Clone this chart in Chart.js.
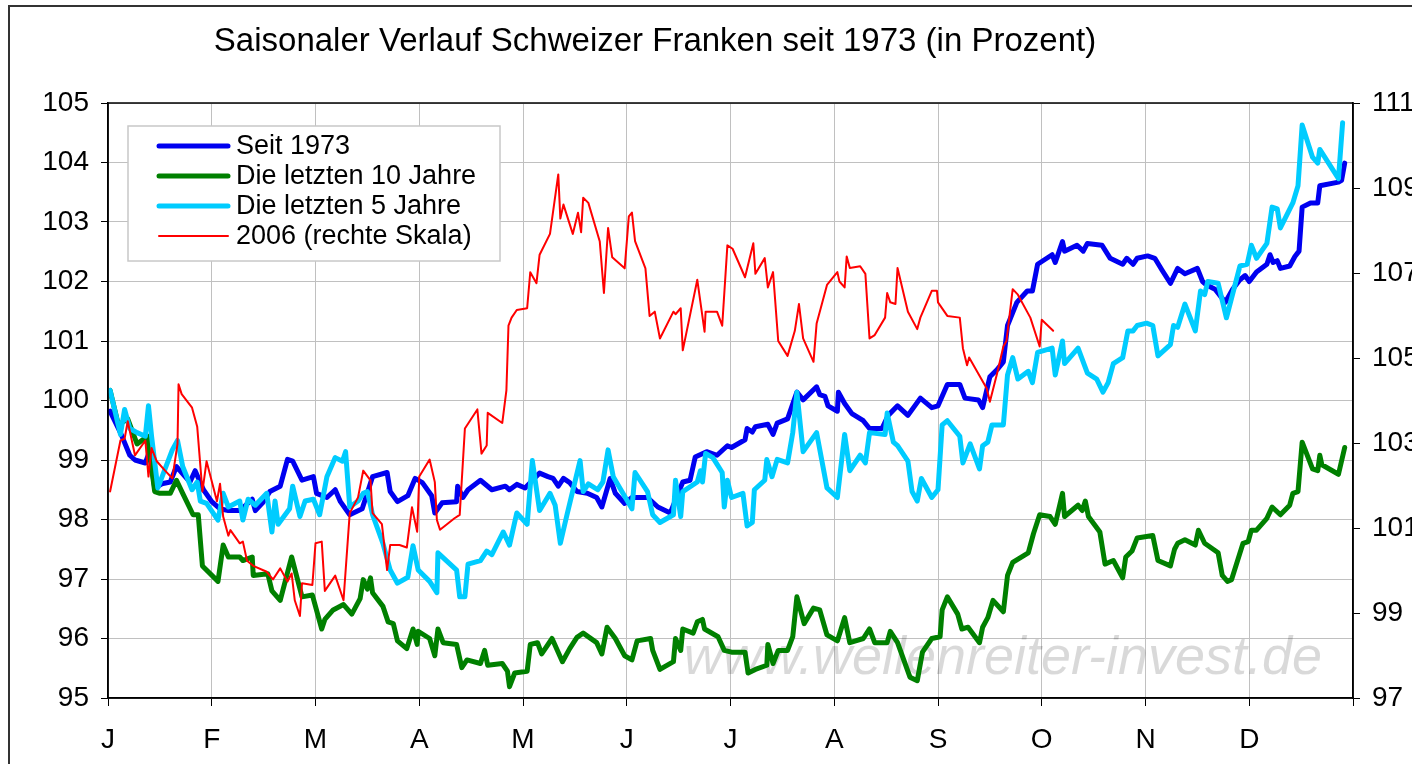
<!DOCTYPE html>
<html>
<head>
<meta charset="utf-8">
<title>Saisonaler Verlauf Schweizer Franken</title>
<script src="https://cdn.jsdelivr.net/npm/chart.js@4"></script>
<style>
  html, body { margin: 0; padding: 0; background: #fff; overflow: hidden; }
  canvas { display: block; }
</style>
</head>
<body>
<canvas id="chart" width="1412" height="764"></canvas>
<script>
// ====================== DATA ======================
// x = position in the year, in months (0 = start of Jan, 12 = end of Dec)
const months = ["J", "F", "M", "A", "M", "J", "J", "A", "S", "O", "N", "D"];
const seriesNames = ["Seit 1973", "Die letzten 10 Jahre", "Die letzten 5 Jahre", "2006 (rechte Skala)"];
const titleText = "Saisonaler Verlauf Schweizer Franken seit 1973 (in Prozent)";
const watermark = "www.wellenreiter-invest.de";

// --- Seit 1973 (left scale) ---
const seit1973X = [0.02,0.12,0.21,0.26,0.36,0.40,0.45,0.52,0.60,0.66,
  0.71,0.79,0.84,0.92,1.00,1.08,1.16,1.27,1.39,1.42,
  1.49,1.56,1.66,1.73,1.78,1.87,1.98,2.01,2.11,2.19,
  2.24,2.33,2.45,2.55,2.69,2.72,2.79,2.89,2.96,3.03,
  3.12,3.15,3.22,3.36,3.37,3.42,3.47,3.59,3.70,3.83,
  3.87,3.94,4.02,4.16,4.24,4.29,4.34,4.39,4.45,4.52,
  4.62,4.71,4.76,4.84,4.89,4.98,5.05,5.20,5.30,5.42,
  5.51,5.54,5.61,5.66,5.77,5.87,5.97,6.01,6.14,6.16,
  6.21,6.24,6.36,6.41,6.45,6.55,6.64,6.70,6.83,6.86,
  6.91,6.94,7.03,7.04,7.10,7.17,7.28,7.34,7.46,7.52,
  7.61,7.71,7.83,7.94,8.00,8.09,8.21,8.26,8.39,8.43,
  8.50,8.57,8.63,8.67,8.76,8.86,8.91,8.96,9.10,9.13,
  9.20,9.22,9.34,9.40,9.44,9.58,9.66,9.78,9.82,9.88,
  9.92,10.02,10.09,10.16,10.24,10.31,10.38,10.50,10.55,10.59,
  10.67,10.77,10.84,10.91,10.96,11.00,11.07,11.17,11.20,11.23,
  11.27,11.30,11.39,11.44,11.48,11.51,11.59,11.66,11.68,11.86,
  11.89,11.92];
const seit1973Y = [99.82,99.46,99.08,99.0,98.95,99.14,98.53,98.6,98.63,98.89,
  98.79,98.63,98.82,98.5,98.3,98.18,98.15,98.15,98.34,98.15,
  98.28,98.47,98.56,99.01,98.98,98.66,98.72,98.44,98.37,98.5,
  98.3,98.08,98.18,98.72,98.79,98.47,98.3,98.4,98.69,98.62,
  98.4,98.11,98.28,98.3,98.56,98.37,98.5,98.66,98.5,98.56,
  98.5,98.59,98.53,98.78,98.72,98.69,98.56,98.69,98.62,98.47,
  98.44,98.37,98.21,98.69,98.44,98.27,98.37,98.37,98.21,98.11,
  98.5,98.63,98.66,99.05,99.14,99.08,99.24,99.21,99.34,99.53,
  99.47,99.56,99.6,99.43,99.62,99.69,100.14,100.01,100.23,100.1,
  100.07,99.91,99.82,100.14,99.95,99.78,99.66,99.53,99.53,99.75,
  99.91,99.75,100.04,99.88,99.91,100.27,100.27,100.04,100.01,99.88,
  100.4,100.52,100.65,101.26,101.65,101.84,101.84,102.29,102.45,102.32,
  102.67,102.51,102.61,102.51,102.64,102.61,102.39,102.29,102.39,102.29,
  102.39,102.43,102.39,102.19,101.97,102.22,102.13,102.22,102.0,101.94,
  101.87,101.65,101.87,102.03,102.1,102.0,102.16,102.29,102.45,102.32,
  102.35,102.22,102.26,102.42,102.51,103.25,103.32,103.32,103.61,103.67,
  103.7,103.99];

// --- Die letzten 10 Jahre (left scale) ---
const tenYearsX = [0.02,0.10,0.19,0.28,0.38,0.45,0.50,0.60,0.66,0.72,
  0.82,0.87,0.91,1.06,1.11,1.16,1.27,1.30,1.39,1.40,
  1.54,1.58,1.66,1.77,1.87,1.97,2.06,2.09,2.17,2.27,
  2.35,2.43,2.46,2.50,2.53,2.55,2.65,2.70,2.75,2.79,
  2.88,2.94,2.98,2.99,3.10,3.15,3.18,3.23,3.36,3.41,
  3.46,3.59,3.63,3.66,3.80,3.85,3.87,3.92,4.04,4.07,
  4.14,4.18,4.28,4.38,4.45,4.52,4.58,4.71,4.76,4.81,
  4.89,4.98,5.05,5.10,5.23,5.25,5.32,5.45,5.47,5.52,
  5.54,5.64,5.68,5.73,5.75,5.88,5.94,6.01,6.14,6.17,
  6.24,6.35,6.36,6.41,6.46,6.55,6.60,6.64,6.71,6.80,
  6.86,6.93,7.03,7.10,7.15,7.28,7.34,7.39,7.51,7.54,
  7.61,7.73,7.80,7.85,7.94,8.02,8.04,8.09,8.19,8.23,
  8.29,8.40,8.43,8.48,8.53,8.63,8.67,8.72,8.87,8.92,
  8.98,9.08,9.13,9.20,9.22,9.35,9.39,9.42,9.45,9.53,
  9.56,9.61,9.69,9.78,9.81,9.87,9.92,10.07,10.12,10.24,
  10.28,10.31,10.38,10.48,10.51,10.57,10.70,10.74,10.79,10.83,
  10.94,10.99,11.02,11.07,11.17,11.22,11.30,11.39,11.42,11.47,
  11.51,11.61,11.66,11.68,11.70,11.86,11.92];
const tenYearsY = [100.17,99.59,99.69,99.27,99.4,98.47,98.44,98.44,98.66,98.44,
  98.08,98.08,97.22,96.96,97.57,97.37,97.37,97.31,97.37,97.06,
  97.09,96.8,96.64,97.37,96.7,96.73,96.16,96.32,96.48,96.57,
  96.41,96.67,96.99,96.83,97.02,96.77,96.54,96.28,96.25,95.96,
  95.83,96.16,95.9,96.12,96.0,95.71,96.16,95.93,95.9,95.51,
  95.64,95.58,95.8,95.55,95.58,95.45,95.19,95.42,95.45,95.9,
  95.93,95.74,96.0,95.61,95.83,96.02,96.09,95.93,95.74,96.19,
  96.0,95.71,95.64,95.96,96.0,95.8,95.48,95.61,96.0,95.8,
  96.16,96.09,96.28,96.32,96.16,96.03,95.8,95.77,95.77,95.42,
  95.48,95.55,95.9,95.58,95.8,95.8,96.03,96.7,96.25,96.51,
  96.48,96.06,95.96,96.35,95.93,96.0,96.16,95.93,95.93,96.12,
  95.93,95.35,95.29,95.77,96.0,96.03,96.48,96.7,96.41,96.16,
  96.19,95.93,96.19,96.35,96.64,96.45,97.06,97.28,97.44,97.76,
  98.08,98.05,97.92,98.44,98.05,98.24,98.15,98.31,98.05,97.86,
  97.79,97.25,97.31,97.02,97.37,97.47,97.69,97.73,97.31,97.22,
  97.5,97.6,97.66,97.57,97.82,97.6,97.44,97.06,96.96,96.99,
  97.6,97.63,97.82,97.82,98.02,98.21,98.08,98.24,98.44,98.47,
  99.3,98.85,98.82,99.08,98.92,98.76,99.21];

// --- Die letzten 5 Jahre (left scale) ---
const fiveYearsX = [0.02,0.12,0.16,0.21,0.28,0.36,0.39,0.42,0.48,0.53,
  0.62,0.67,0.72,0.81,0.86,0.89,0.95,1.06,1.11,1.16,
  1.27,1.30,1.35,1.42,1.53,1.58,1.61,1.64,1.75,1.78,
  1.85,1.90,1.98,2.04,2.11,2.19,2.26,2.29,2.33,2.41,
  2.46,2.50,2.55,2.65,2.72,2.79,2.89,2.94,2.99,3.10,
  3.17,3.18,3.36,3.39,3.44,3.47,3.59,3.65,3.70,3.81,
  3.87,3.94,4.04,4.09,4.16,4.26,4.31,4.36,4.42,4.55,
  4.58,4.63,4.72,4.77,4.82,4.87,5.05,5.08,5.20,5.25,
  5.32,5.45,5.47,5.52,5.54,5.68,5.71,5.73,5.76,5.83,
  5.92,5.94,5.97,6.01,6.12,6.16,6.21,6.23,6.33,6.35,
  6.40,6.45,6.55,6.60,6.64,6.70,6.83,6.93,7.03,7.10,
  7.15,7.25,7.30,7.34,7.49,7.51,7.57,7.61,7.71,7.75,
  7.80,7.84,7.94,8.00,8.04,8.09,8.21,8.24,8.31,8.40,
  8.43,8.48,8.52,8.63,8.67,8.72,8.77,8.87,8.91,8.96,
  9.10,9.13,9.20,9.22,9.35,9.44,9.53,9.59,9.64,9.69,
  9.78,9.83,9.88,9.92,10.01,10.07,10.12,10.24,10.27,10.31,
  10.38,10.48,10.53,10.57,10.60,10.70,10.78,10.91,10.98,11.02,
  11.07,11.17,11.22,11.27,11.30,11.42,11.47,11.51,11.61,11.66,
  11.68,11.86,11.90];
const fiveYearsY = [100.17,99.43,99.85,99.53,99.46,99.4,99.91,99.4,98.53,98.76,
  99.17,99.33,98.89,98.5,98.63,98.31,98.27,97.99,98.44,98.21,
  98.31,97.99,98.34,98.24,98.44,97.79,98.31,97.92,98.18,98.56,
  98.05,98.31,98.34,98.08,98.72,99.04,98.98,99.14,98.21,98.31,
  98.44,98.47,98.08,97.6,97.15,96.93,97.03,97.56,97.15,96.96,
  96.77,97.44,97.15,96.7,96.7,97.25,97.31,97.47,97.41,97.79,
  97.57,98.11,97.92,98.99,98.15,98.44,98.24,97.6,98.05,98.99,
  98.47,98.6,98.5,98.63,99.17,98.72,98.18,98.79,98.47,98.08,
  97.95,98.08,98.66,98.05,98.47,98.63,98.82,98.63,99.11,99.04,
  98.79,98.21,98.66,98.37,98.44,97.89,97.95,98.5,98.66,99.01,
  98.72,99.01,98.95,99.46,100.14,99.14,99.46,98.53,98.37,99.43,
  98.82,99.08,98.95,99.46,99.43,99.79,99.3,99.24,98.98,98.47,
  98.31,98.69,98.37,98.5,99.59,99.66,99.4,98.95,99.27,98.85,
  99.24,99.3,99.59,99.59,100.43,100.72,100.36,100.49,100.3,100.81,
  100.88,100.43,101.0,100.62,100.88,100.46,100.36,100.14,100.3,100.62,
  100.72,101.17,101.17,101.26,101.3,101.26,100.75,100.94,101.26,101.23,
  101.62,101.17,101.84,101.78,102.0,101.97,101.39,102.26,102.29,102.61,
  102.39,102.64,103.25,103.22,102.9,103.32,103.61,104.63,104.09,103.99,
  104.22,103.73,104.67];

// --- 2006 (right scale) ---
const y2006X = [0.02,0.12,0.16,0.19,0.26,0.36,0.39,0.42,0.47,0.55,
  0.62,0.67,0.68,0.71,0.81,0.86,0.91,0.95,1.05,1.08,
  1.11,1.16,1.18,1.27,1.30,1.34,1.40,1.53,1.59,1.66,
  1.73,1.77,1.80,1.85,1.87,1.97,2.00,2.06,2.09,2.19,
  2.27,2.33,2.41,2.46,2.53,2.55,2.64,2.69,2.72,2.81,
  2.88,2.93,2.98,3.00,3.10,3.15,3.17,3.20,3.34,3.39,
  3.44,3.56,3.60,3.65,3.66,3.80,3.84,3.86,3.89,3.94,
  4.04,4.07,4.13,4.16,4.26,4.34,4.36,4.39,4.48,4.53,
  4.56,4.58,4.63,4.74,4.78,4.82,4.86,4.98,5.02,5.05,
  5.08,5.18,5.22,5.27,5.32,5.45,5.47,5.52,5.54,5.68,
  5.75,5.76,5.87,5.92,5.97,6.02,6.14,6.22,6.24,6.33,
  6.36,6.41,6.46,6.55,6.62,6.66,6.70,6.80,6.83,6.93,
  7.03,7.05,7.10,7.12,7.15,7.25,7.30,7.34,7.39,7.49,
  7.51,7.54,7.59,7.61,7.71,7.80,7.83,7.94,7.99,8.00,
  8.09,8.21,8.24,8.28,8.30,8.47,8.50,8.57,8.63,8.66,
  8.72,8.77,8.89,8.98,9.00,9.11];
const y2006Y = [101.86,103.06,103.10,103.51,102.71,103.06,102.21,102.88,102.57,102.35,
  102.17,102.98,104.38,104.15,103.83,103.38,101.86,102.57,101.63,102.04,
  101.27,100.82,100.95,100.64,100.68,100.23,100.11,99.97,99.79,100.05,
  99.74,99.93,99.30,98.93,99.70,99.66,100.64,100.68,99.52,99.88,
  99.30,101.35,101.72,102.35,102.12,101.35,101.09,100.01,100.60,100.60,
  100.54,101.49,100.91,102.21,102.61,102.08,101.19,100.96,101.23,101.31,
  103.34,103.79,102.75,102.94,103.71,103.47,104.24,105.76,105.95,106.13,
  106.17,107.02,106.76,107.43,107.92,109.32,108.28,108.61,107.92,108.42,
  107.96,108.77,108.65,107.74,106.53,108.06,107.37,107.11,108.33,108.42,
  107.75,107.11,105.99,106.09,105.46,106.09,106.03,106.17,105.18,106.84,
  105.62,106.09,106.09,105.76,107.65,107.57,106.90,107.70,106.98,107.35,
  106.66,107.02,105.40,105.05,105.64,106.27,105.46,104.91,105.81,106.72,
  107.02,106.80,106.66,107.39,107.12,107.16,106.98,105.46,105.54,105.95,
  106.53,106.31,106.27,107.12,106.09,105.68,105.95,106.58,106.58,106.31,
  105.99,105.95,105.23,104.83,105.01,104.28,103.97,104.64,105.27,105.40,
  106.62,106.49,105.95,105.27,105.90,105.64];

// ====================== HELPERS ======================
const FONT = "'Liberation Sans', Arial, sans-serif";

function toPoints(xs, ys) {
  return xs.map((x, i) => ({ x: x, y: ys[i] }));
}

// ====================== EXTRA DRAWING (title, legend, frames, watermark) ======================
const decorPlugin = {
  id: "decor",
  beforeDatasetsDraw(chart) {
    const ctx = chart.ctx;
    ctx.save();
    ctx.font = "italic 54px " + FONT;
    ctx.fillStyle = "rgba(0,0,0,0.15)";
    ctx.textAlign = "center";
    ctx.textBaseline = "alphabetic";
    ctx.fillText(watermark, 1003, 674);
    ctx.restore();
  },
  afterDraw(chart) {
    const ctx = chart.ctx;
    const a = chart.chartArea;
    ctx.save();

    // plot area frame
    ctx.strokeStyle = "#000";
    ctx.lineWidth = 1.5;
    ctx.strokeRect(a.left, a.top, a.right - a.left, a.bottom - a.top);

    // outer frame (runs off the page right and bottom)
    ctx.strokeStyle = "#333";
    ctx.lineWidth = 2;
    ctx.strokeRect(9, 6, 1500, 900);

    // title
    ctx.fillStyle = "#000";
    ctx.font = "33px " + FONT;
    ctx.textAlign = "center";
    ctx.textBaseline = "middle";
    ctx.fillText(titleText, 655, 42);

    // legend box
    ctx.fillStyle = "#fff";
    ctx.fillRect(128, 126, 372, 135);
    ctx.strokeStyle = "#c8c8c8";
    ctx.lineWidth = 1.5;
    ctx.strokeRect(128, 126, 372, 135);

    ctx.font = "27px " + FONT;
    ctx.textAlign = "left";
    ctx.textBaseline = "middle";
    chart.data.datasets.forEach((ds, i) => {
      const y = 146 + i * 30;
      ctx.strokeStyle = ds.borderColor;
      ctx.lineWidth = ds.borderWidth;
      ctx.lineCap = "round";
      ctx.beginPath();
      ctx.moveTo(159, y);
      ctx.lineTo(228, y);
      ctx.stroke();
      ctx.fillStyle = "#000";
      ctx.fillText(ds.label, 236, y + 1);
    });
    ctx.restore();
  }
};

// ====================== CHART ======================
const lineStyle = {
  pointRadius: 0,
  tension: 0,
  fill: false,
  borderJoinStyle: "round",
  borderCapStyle: "round"
};

new Chart(document.getElementById("chart"), {
  type: "line",
  data: {
    datasets: [
      { ...lineStyle, label: seriesNames[0], data: toPoints(seit1973X, seit1973Y), borderColor: "#0000F0", borderWidth: 5, yAxisID: "y", order: 4 },
      { ...lineStyle, label: seriesNames[1], data: toPoints(tenYearsX, tenYearsY), borderColor: "#008000", borderWidth: 5, yAxisID: "y", order: 3 },
      { ...lineStyle, label: seriesNames[2], data: toPoints(fiveYearsX, fiveYearsY), borderColor: "#00CCFF", borderWidth: 5, yAxisID: "y", order: 2 },
      { ...lineStyle, label: seriesNames[3], data: toPoints(y2006X, y2006Y), borderColor: "#FF0000", borderWidth: 2, yAxisID: "y2", order: 1 }
    ]
  },
  options: {
    responsive: false,
    animation: false,
    events: [],
    layout: { padding: { top: 103, left: 0, right: 0, bottom: 0 } },
    plugins: {
      legend: { display: false },
      title: { display: false },
      tooltip: { enabled: false }
    },
    scales: {
      x: {
        type: "linear",
        min: 0,
        max: 12,
        afterFit(scale) { scale.height = 66; },
        grid: { color: "#c0c0c0", lineWidth: 1, tickColor: "#000", tickLength: 8 },
        border: { color: "#000", width: 1.5 },
        ticks: {
          stepSize: 1,
          autoSkip: false,
          maxRotation: 0,
          padding: 17,
          color: "#000",
          font: { family: FONT, size: 28 },
          callback: (v) => months[v] ?? ""
        }
      },
      y: {
        position: "left",
        min: 95,
        max: 105,
        afterFit(scale) { scale.width = 108; },
        grid: { color: "#c0c0c0", lineWidth: 1, tickColor: "#000", tickLength: 7 },
        border: { color: "#000", width: 1.5 },
        ticks: { stepSize: 1, padding: 12, color: "#000", font: { family: FONT, size: 28 } }
      },
      y2: {
        position: "right",
        min: 97,
        max: 111,
        afterFit(scale) { scale.width = 59; },
        grid: { drawOnChartArea: false, tickColor: "#000", tickLength: 7 },
        border: { color: "#000", width: 1.5 },
        ticks: { stepSize: 2, padding: 12, color: "#000", font: { family: FONT, size: 28 } }
      }
    }
  },
  plugins: [decorPlugin]
});
</script>
</body>
</html>
